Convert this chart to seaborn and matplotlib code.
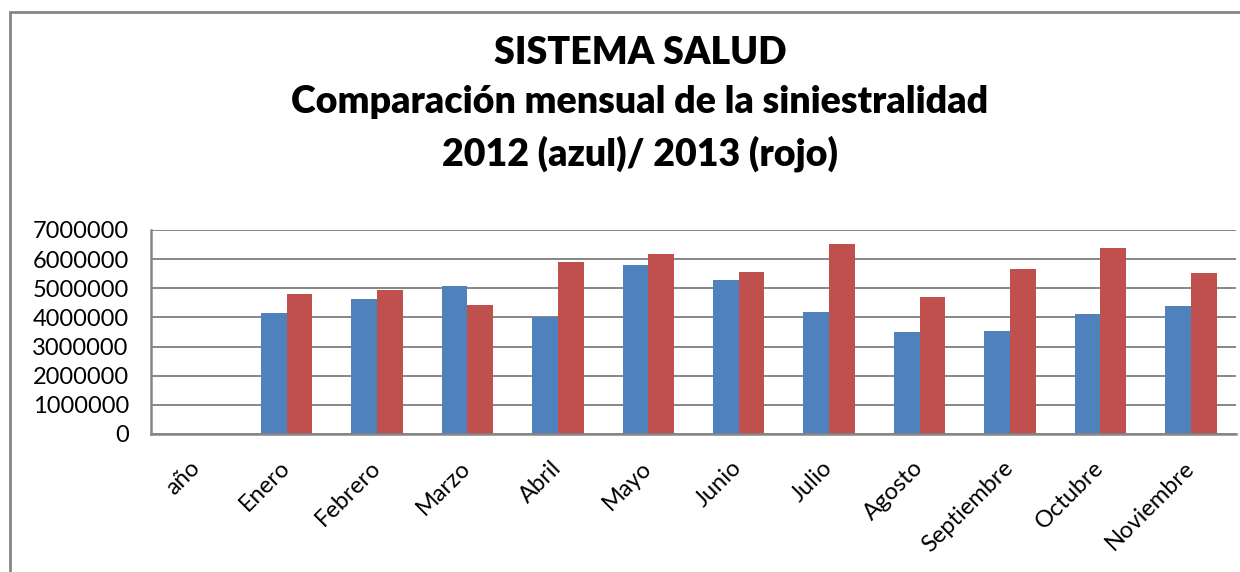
import matplotlib
matplotlib.use('Agg')
import matplotlib.pyplot as plt
from matplotlib.lines import Line2D
import seaborn as sns
import pandas as pd
import numpy as np

meses = ['año', 'Enero', 'Febrero', 'Marzo', 'Abril', 'Mayo', 'Junio',
         'Julio', 'Agosto', 'Septiembre', 'Octubre', 'Noviembre']
valores_2012 = [np.nan, 4140000, 4640000, 5070000, 4020000, 5810000, 5270000,
                4200000, 3500000, 3550000, 4130000, 4390000]
valores_2013 = [np.nan, 4790000, 4950000, 4420000, 5890000, 6170000, 5550000,
                6520000, 4700000, 5650000, 6370000, 5510000]
yticks = [0, 1000000, 2000000, 3000000, 4000000, 5000000, 6000000, 7000000]

df = pd.DataFrame({
    'Mes': meses * 2,
    'Valor': valores_2012 + valores_2013,
    'Serie': ['2012'] * len(meses) + ['2013'] * len(meses),
}).dropna()

sns.set_style('white')
plt.rcParams['font.family'] = ['Lato', 'DejaVu Sans']
plt.rcParams['text.color'] = 'black'
plt.rcParams['xtick.color'] = 'black'
plt.rcParams['ytick.color'] = 'black'

gris = '#868686'
fig = plt.figure(figsize=(12.4, 5.72), dpi=100)
ax = fig.add_axes([151 / 1240, 1 - 434 / 572, 1085 / 1240, 204 / 572])

sns.barplot(data=df, x='Mes', y='Valor', hue='Serie', order=meses,
            palette=['#4F81BD', '#C0504D'], width=0.57, saturation=1,
            linewidth=0, legend=False, ax=ax)

ax.set_ylim(0, 7000000)
ax.set_xlim(-0.5, len(meses) - 0.5)
ax.set_yticks(yticks)
ax.set_yticklabels([str(v) for v in yticks])
ax.yaxis.grid(True, color=gris, linewidth=1.4)
ax.set_axisbelow(True)
ax.set_xlabel('')
ax.set_ylabel('')
for s in ['top', 'right']:
    ax.spines[s].set_visible(False)
for s in ['left', 'bottom']:
    ax.spines[s].set_color(gris)
    ax.spines[s].set_linewidth(1.8)
ax.tick_params(axis='y', length=0, pad=16, labelsize=17)
ax.tick_params(axis='x', length=0, pad=22, labelsize=17)
plt.setp(ax.get_xticklabels(), rotation=45, ha='right', va='center',
         rotation_mode='anchor')

titulo = 'SISTEMA SALUD\nComparación mensual de la siniestralidad\n2012 (azul)/ 2013 (rojo)'
fig.text(640 / 1240, 1 - 104 / 572, titulo, ha='center', va='center',
         fontsize=27, fontweight='heavy', linespacing=1.55, color='black')

# borde del gráfico
fig.add_artist(Line2D([10 / 1240, 1], [1 - 12 / 572] * 2, color=gris, linewidth=2))
fig.add_artist(Line2D([10 / 1240] * 2, [0, 1 - 12 / 572], color=gris, linewidth=2))

fig.savefig('out.png', dpi=100)
